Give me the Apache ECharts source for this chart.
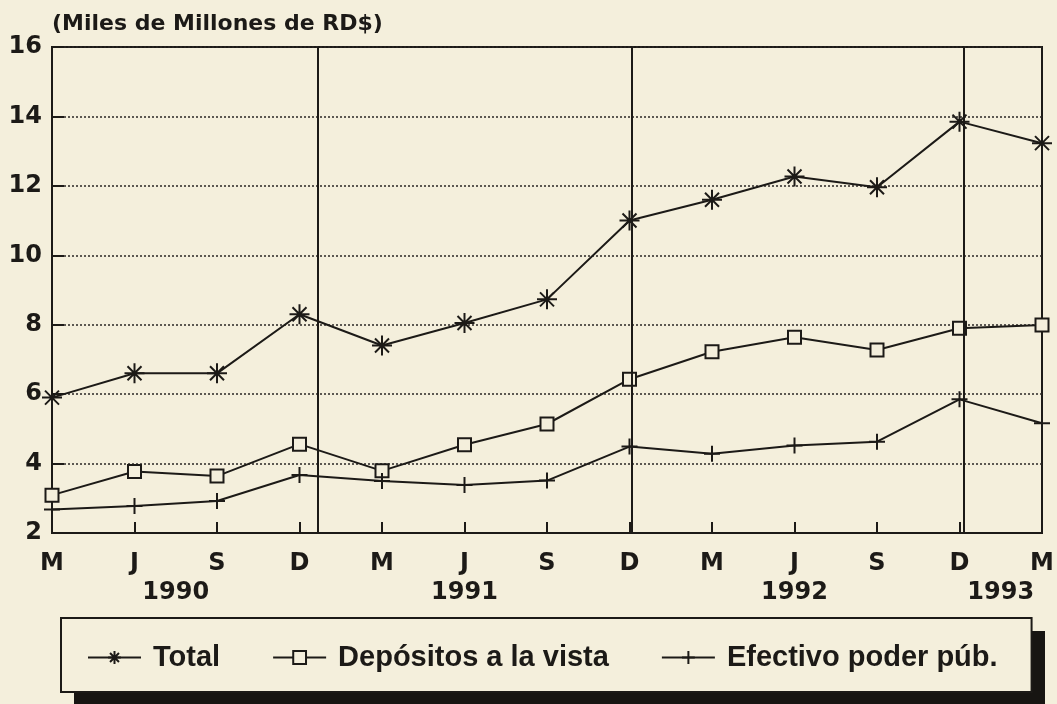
<!DOCTYPE html>
<html>
<head>
<meta charset="utf-8">
<script src="https://cdn.jsdelivr.net/npm/echarts@6/dist/echarts.min.js"></script>
<style>
  html, body { margin: 0; padding: 0; background: #f4efdc; }
  #chart { width: 1057px; height: 704px; }
</style>
</head>
<body>
<div id="chart"></div>
<script>
// ---- Data ----
const monthLabels = ['M', 'J', 'S', 'D', 'M', 'J', 'S', 'D', 'M', 'J', 'S', 'D', 'M'];
const yearLabels = ['1990', '1991', '1992', '1993'];
const yearLabelPositions = [1.5, 5, 9, 11.5];
const yearBreaks = [3.22, 7.03, 11.05];
const seriesNames = ['Total', 'Depósitos a la vista', 'Efectivo poder púb.'];
const totalValues = [5.9, 6.6, 6.6, 8.3, 7.4, 8.05, 8.73, 11.0, 11.6, 12.27, 11.96, 13.85, 13.23];
const depositosValues = [3.09, 3.77, 3.64, 4.56, 3.79, 4.54, 5.14, 6.43, 7.22, 7.64, 7.27, 7.9, 7.99];
const efectivoValues = [2.68, 2.78, 2.92, 3.67, 3.5, 3.38, 3.51, 4.49, 4.28, 4.52, 4.63, 5.85, 5.16];
const yTicks = { min: 2, max: 16, interval: 2 };

// ---- Styles ----
const ink = '#1c1a17';
const paper = '#f4efdc';
const axisFont = 'DejaVu Sans';
const asteriskPath = 'path://M0,10 L20,10 M10,0 L10,20 M3,3 L17,17 M17,3 L3,17';
const plusPath = 'path://M10,0 L10,20 M0,10 L20,10';

function toPairs(vals) { return vals.map((v, i) => [i, v]); }

const chart = echarts.init(document.getElementById('chart'), null, { renderer: 'canvas' });

const option = {
  backgroundColor: paper,
  animation: false,
  title: {
    text: '(Miles de Millones de RD$)',
    left: 52, top: 13, padding: 0,
    textStyle: { fontFamily: axisFont, fontWeight: 'bold', fontSize: 22, color: ink }
  },
  grid: {
    left: 52, right: 15, top: 47, bottom: 171,
    show: true, borderColor: ink, borderWidth: 2, backgroundColor: 'transparent'
  },
  graphic: [
    {
      type: 'rect', z: 1, silent: true,
      shape: { x: 74, y: 631, width: 971, height: 80 },
      style: { fill: '#171512' }
    }
  ],
  legend: {
    left: 61, top: 618, z: 5,
    padding: [25, 34, 20, 26],
    itemGap: 52, itemWidth: 53, itemHeight: 16,
    backgroundColor: paper, borderColor: ink, borderWidth: 2,
    textStyle: { fontFamily: 'Liberation Sans', fontWeight: 'bold', fontSize: 29, color: ink, padding: [0, 0, 0, 7] },
    data: seriesNames
  },
  xAxis: [
    {
      type: 'value', min: 0, max: monthLabels.length - 1, interval: 1,
      position: 'bottom',
      axisLine: { show: true, lineStyle: { color: ink, width: 2 } },
      axisTick: { show: true, inside: true, length: 11, lineStyle: { color: ink, width: 2 } },
      splitLine: { show: false },
      axisLabel: {
        margin: 19, fontFamily: axisFont, fontWeight: 'bold', fontSize: 24, color: ink,
        formatter: v => monthLabels[Math.round(v)] || ''
      }
    },
    {
      type: 'value', min: 0, max: monthLabels.length - 1, interval: 0.5,
      position: 'bottom', offset: 29,
      axisLine: { show: false }, axisTick: { show: false }, splitLine: { show: false },
      axisLabel: {
        margin: 19, fontFamily: axisFont, fontWeight: 'bold', fontSize: 24, color: ink,
        showMinLabel: true, showMaxLabel: true,
        formatter: v => {
          const k = yearLabelPositions.findIndex(p => Math.abs(p - v) < 1e-6);
          return k >= 0 ? yearLabels[k] : '';
        }
      }
    }
  ],
  yAxis: {
    type: 'value', min: yTicks.min, max: yTicks.max, interval: yTicks.interval,
    axisLine: { show: true, lineStyle: { color: ink, width: 2 } },
    axisTick: { show: true, inside: true, length: 12, lineStyle: { color: ink, width: 2 } },
    splitLine: { show: true, lineStyle: { color: '#2a2724', width: 1.5, type: [2, 2] } },
    axisLabel: { margin: 10, fontFamily: axisFont, fontWeight: 'bold', fontSize: 24, color: ink }
  },
  series: [
    {
      name: seriesNames[0], type: 'line', xAxisIndex: 0,
      data: toPairs(totalValues),
      symbol: asteriskPath, symbolSize: 20,
      color: ink,
      lineStyle: { color: ink, width: 2 },
      itemStyle: { color: ink, borderColor: ink, borderWidth: 2 },
      markLine: {
        silent: true, symbol: ['none', 'none'], label: { show: false },
        lineStyle: { color: ink, width: 2, type: 'solid' },
        data: yearBreaks.map(x => ({ xAxis: x }))
      },
      z: 3
    },
    {
      name: seriesNames[1], type: 'line', xAxisIndex: 0,
      data: toPairs(depositosValues),
      symbol: 'rect', symbolSize: 13,
      color: ink,
      lineStyle: { color: ink, width: 2 },
      itemStyle: { color: paper, borderColor: ink, borderWidth: 2 },
      z: 3
    },
    {
      name: seriesNames[2], type: 'line', xAxisIndex: 0,
      data: toPairs(efectivoValues),
      symbol: plusPath, symbolSize: 16,
      color: ink,
      lineStyle: { color: ink, width: 2 },
      itemStyle: { color: ink, borderColor: ink, borderWidth: 2 },
      z: 3
    }
  ]
};

chart.setOption(option);
</script>
</body>
</html>
